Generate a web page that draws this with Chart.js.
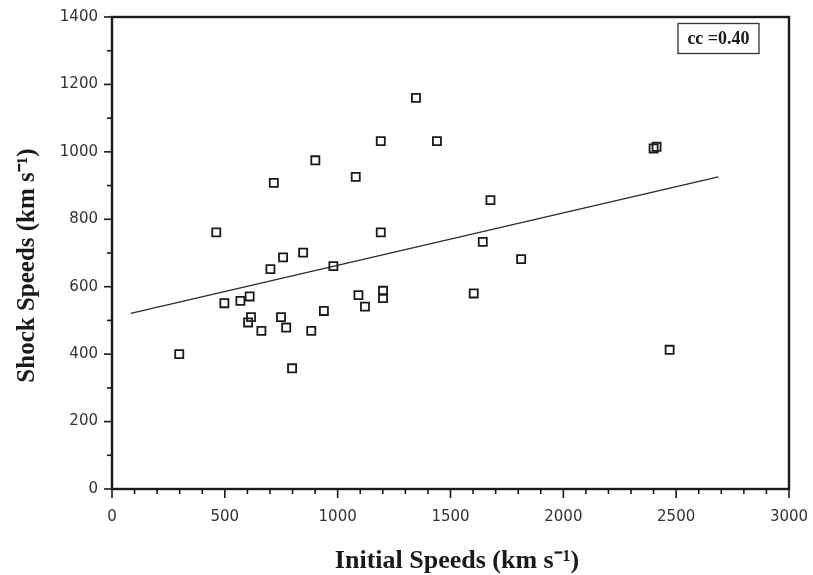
<!DOCTYPE html>
<html>
<head>
<meta charset="utf-8">
<script src="https://cdn.jsdelivr.net/npm/chart.js@4/dist/chart.umd.min.js"></script>
<style>
  html, body { margin: 0; padding: 0; background: #fff; }
  #wrap { width: 813px; height: 575px; position: relative; }
</style>
</head>
<body>
<div id="wrap"><canvas id="c" width="813" height="575"></canvas></div>
<script>
// ---- data ----
const initialSpeeds = [298, 462, 498, 569, 610, 603, 616, 662, 702, 717, 749, 758, 772, 798, 847, 883, 901, 939, 981, 1080, 1092, 1121, 1191, 1191, 1201, 1201, 1347, 1440, 1603, 1643, 1677, 1813, 2400, 2413, 2471];
const shockSpeeds   = [400, 761, 551, 558, 571, 494, 510, 469, 652, 908, 510, 687, 479, 358, 701, 469, 975, 528, 661, 926, 575, 541, 1032, 761, 588, 566, 1160, 1032, 580, 733, 857, 682, 1010, 1015, 413];
const fitX = [83, 2687];
const fitY = [521, 926];
const xTickLabels = ['0', '500', '1000', '1500', '2000', '2500', '3000'];
const yTickLabels = ['0', '200', '400', '600', '800', '1000', '1200', '1400'];
const ccLabel = 'cc =0.40';
const xTitle = 'Initial Speeds (km s\u207B\u00B9)';
const yTitle = 'Shock Speeds (km s\u207B\u00B9)';

const points = initialSpeeds.map((x, i) => ({ x: x, y: shockSpeeds[i] }));
const fitPoints = fitX.map((x, i) => ({ x: x, y: fitY[i] }));

const INK = '#1a1a1a';

const framePlugin = {
  id: 'frameTicks',
  afterDraw(chart) {
    const ctx = chart.ctx;
    const a = chart.chartArea;
    const xs = chart.scales.x, ys = chart.scales.y;
    ctx.save();
    ctx.strokeStyle = INK;
    ctx.lineWidth = 1.6;
    ys.ticks.forEach(t => {
      const py = ys.getPixelForValue(t.value);
      const major = yTickLabels.includes(String(t.value));
      const len = major ? 8 : 5;
      ctx.beginPath();
      ctx.moveTo(a.left - len, py);
      ctx.lineTo(a.left, py);
      ctx.stroke();
    });
    xs.ticks.forEach(t => {
      const px = xs.getPixelForValue(t.value);
      const major = xTickLabels.includes(String(t.value));
      const len = major ? 9 : 5;
      ctx.beginPath();
      ctx.moveTo(px, a.bottom);
      ctx.lineTo(px, a.bottom + len);
      ctx.stroke();
    });
    ctx.lineWidth = 2.4;
    ctx.strokeRect(a.left, a.top, a.right - a.left, a.bottom - a.top);
    const bw = 81, bh = 30;
    const bx = a.right - 111, by = a.top + 6.5;
    ctx.lineWidth = 1.3;
    ctx.strokeStyle = '#333';
    ctx.strokeRect(bx, by, bw, bh);
    ctx.fillStyle = INK;
    ctx.font = 'bold 18px "Liberation Serif", "Times New Roman", serif';
    ctx.textAlign = 'center';
    ctx.textBaseline = 'middle';
    ctx.fillText(ccLabel, bx + bw / 2, by + bh / 2 + 1);
    ctx.restore();
  }
};

new Chart(document.getElementById('c'), {
  type: 'scatter',
  data: {
    datasets: [
      {
        type: 'scatter',
        data: points,
        pointStyle: 'rect',
        pointRadius: 5.7,
        pointHoverRadius: 5.7,
        borderWidth: 1.8,
        borderColor: INK,
        backgroundColor: 'rgba(255,255,255,0)',
        order: 1
      },
      {
        type: 'line',
        data: fitPoints,
        borderColor: '#2a2a2a',
        borderWidth: 1.3,
        pointRadius: 0,
        fill: false,
        tension: 0,
        order: 2
      }
    ]
  },
  options: {
    responsive: false,
    animation: false,
    devicePixelRatio: 1,
    layout: { padding: { top: 17, right: 24, left: 0, bottom: 0 } },
    plugins: { legend: { display: false }, tooltip: { enabled: false }, title: { display: false } },
    scales: {
      x: {
        type: 'linear',
        min: 0, max: 3000,
        grid: { display: false, drawTicks: false },
        border: { display: false },
        afterFit(s) { s.height = 86; s.paddingLeft = 0; s.paddingRight = 0; },
        ticks: {
          stepSize: 100,
          autoSkip: false,
          maxRotation: 0,
          padding: 19,
          color: '#333',
          font: { family: '"DejaVu Sans", sans-serif', size: 15 },
          callback: v => xTickLabels.includes(String(v)) ? String(v) : ''
        },
        title: {
          display: true,
          text: '  ' + xTitle,
          color: INK,
          padding: { top: 0, bottom: -2 },
          font: { family: '"Liberation Serif", "Times New Roman", serif', size: 26, weight: 'bold' }
        }
      },
      y: {
        type: 'linear',
        min: 0, max: 1400,
        grid: { display: false, drawTicks: false },
        border: { display: false },
        afterFit(s) { s.width = 112; s.paddingTop = 0; s.paddingBottom = 0; },
        ticks: {
          stepSize: 100,
          autoSkip: false,
          padding: 14,
          color: '#333',
          font: { family: '"DejaVu Sans", sans-serif', size: 15 },
          callback: v => yTickLabels.includes(String(v)) ? String(v) : ''
        },
        title: {
          display: true,
          text: yTitle + '    ',
          color: INK,
          padding: { top: 13, bottom: 0 },
          font: { family: '"Liberation Serif", "Times New Roman", serif', size: 25, weight: 'bold' }
        }
      }
    }
  },
  plugins: [framePlugin]
});
</script>
</body>
</html>
